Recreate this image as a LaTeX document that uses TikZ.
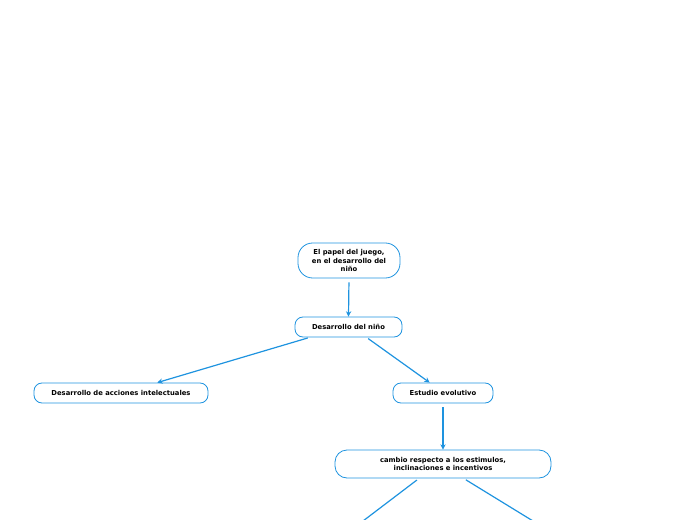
\documentclass[tikz,border=0pt]{standalone}
\usepackage{fontspec}
\setmainfont{DejaVu Sans}
\usepackage{tikz}
\usetikzlibrary{arrows.meta}
\definecolor{mapblue}{HTML}{1E93DF}

\tikzset{
  topic/.style = {draw=mapblue, line width=0.6pt, rounded corners=#1,
    align=center, inner sep=0pt, font=\fontsize{5.1}{6.1}\selectfont\bfseries},
  topic/.default = 6pt,
  link/.style = {draw=mapblue, line width=0.9pt},
  linkarrow/.style = {link, -{Stealth[length=4pt,width=4pt]}}
}

\begin{document}
\begin{tikzpicture}[x=0.75pt, y=-0.75pt]
        \useasboundingbox (0,0) rectangle (696,520);
        \clip (0,0) rectangle (696,520);

        % Topics
        \node[topic=11pt, minimum width=76.5pt, minimum height=26.25pt] (juego) at (349,260.5)
            {El papel del juego,\\en el desarrollo del\\niño};
        \node[topic, minimum width=80.25pt, minimum height=15pt] (nino) at (348.5,327)
            {Desarrollo del niño};
        \node[topic, minimum width=130.5pt, minimum height=15pt] (acciones) at (121,393)
            {Desarrollo de acciones intelectuales};
        \node[topic, minimum width=75pt, minimum height=15pt] (estudio) at (443,393)
            {Estudio evolutivo};
        \node[topic=9pt, minimum width=162pt, minimum height=21pt] (cambio) at (443,464)
            {cambio respecto a los estimulos,\\inclinaciones e incentivos};

        % Loose ends below the page
        \coordinate (izq) at (363,521);
        \coordinate (der) at (533,521);

        % Links
        \draw[linkarrow, shorten <=3pt] (juego.south) -- (nino.north);
        \draw[linkarrow, shorten <=1.5pt] (nino.-165) -- (acciones.16);
        \draw[linkarrow, shorten <=1.5pt] (nino.-30) -- (estudio.142);
        \draw[linkarrow, shorten <=3pt] (estudio.south) -- (cambio.north);
        \draw[link, shorten <=2pt] (cambio.-149) -- (izq);
        \draw[link, shorten <=2pt] (cambio.-35) -- (der);
\end{tikzpicture}
\end{document}
